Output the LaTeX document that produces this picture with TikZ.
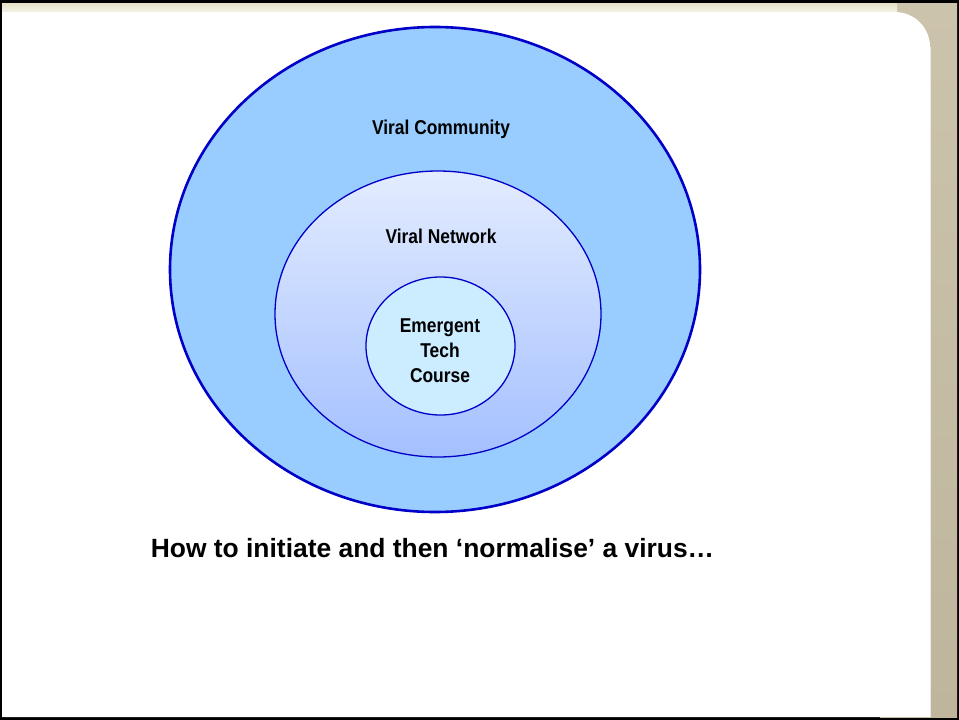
\documentclass[tikz,border=0pt]{standalone}
\usepackage{fontspec}
\setmainfont{Liberation Sans}
\newfontfamily\narrowb[FakeStretch=0.87]{Liberation Sans}
\usetikzlibrary{shapes.geometric}
\definecolor{outerfill}{HTML}{99CCFF}
\definecolor{ringblue}{HTML}{0000C8}
\definecolor{midtop}{HTML}{E3ECFF}
\definecolor{midbot}{HTML}{A4C0FF}
\definecolor{innerfill}{HTML}{CCECFF}
\definecolor{beige}{HTML}{E4E1C4}
\definecolor{tantop}{HTML}{CCC3AD}
\definecolor{tanbot}{HTML}{BFB59D}
\tikzset{
  ring/.style={ellipse, draw=ringblue, inner sep=0pt},
  lbl/.style={font=\narrowb\bfseries\fontsize{20}{25}\selectfont, align=center, inner sep=0pt},
  captext/.style={font=\bfseries\fontsize{26.4}{30}\selectfont, inner sep=0pt}
}
\begin{document}
\begin{tikzpicture}[x=1pt,y=-1pt]
\useasboundingbox (0,0) rectangle (959,720);
% frame
\fill[black] (0,0) rectangle (959,720);
\shade[top color=tantop, bottom color=tanbot] (880,3) rectangle (957,717);
\shade[top color=beige, bottom color=white] (2,3) rectangle (897,18);
\fill[white] (2,12) -- (895,12) arc[start angle=-90, end angle=0, radius=35] -- (930,717) -- (2,717) -- cycle;
\draw[white!70!tanbot, line width=1pt] (930.5,47) -- (930.5,717);
% ellipses
\node[ring, line width=2.6pt, fill=outerfill, minimum width=530pt, minimum height=485pt] (outer) at (435,269.5) {};
\node[ring, line width=1.3pt, top color=midtop, bottom color=midbot, minimum width=326pt, minimum height=286pt] (middle) at (438,314) {};
\node[ring, line width=1.3pt, fill=innerfill, minimum width=149pt, minimum height=138pt] (inner) at (440.5,346) {};
% labels
\node[lbl] (tcomm) at (441,129) {Viral Community};
\node[lbl] (tnet) at (441,236) {Viral Network};
\node[lbl] (tcourse) at (440,351) {Emergent\\Tech\\Course};
\node[captext] (caption) at (432.5,548) {How to initiate and then ‘normalise’ a virus…};
\end{tikzpicture}
\end{document}
